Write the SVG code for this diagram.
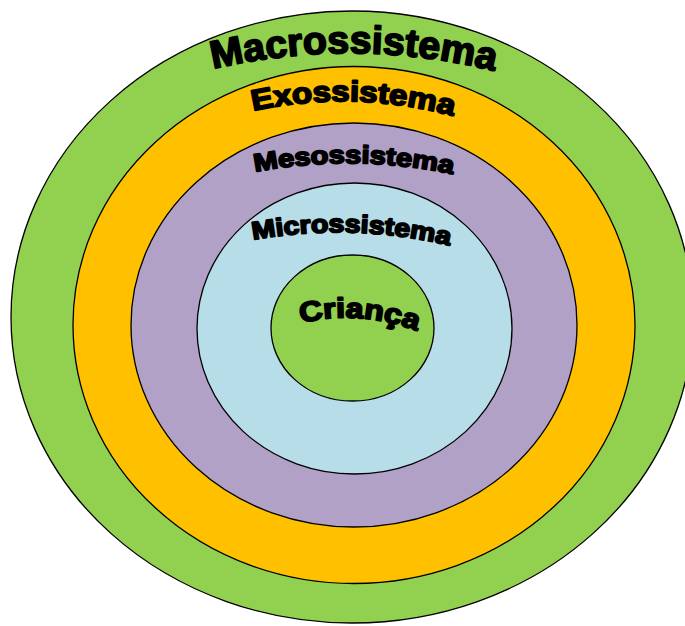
<svg xmlns="http://www.w3.org/2000/svg" width="685" height="626" viewBox="0 0 685 626">
<style>
.ring{stroke:#000;stroke-width:1.3}
.lbl{font-family:"Liberation Sans",Arial,sans-serif;font-weight:bold;fill:#000;stroke:#000;stroke-width:1.8;stroke-linejoin:round}
</style>
<defs>
<path id="pMacro" d="M 213 69 Q 355 36 499 72"/>
<path id="pExo" d="M 253 111 Q 355 89 457 117"/>
<path id="pMeso" d="M 255 172 Q 355 153 456 175"/>
<path id="pMicro" d="M 253 240 Q 352 222 452 246"/>
<path id="pCrianca" d="M 301 323 Q 358 309 420 332"/>
</defs>
<rect width="685" height="626" fill="#fff"/>
<g id="macrossistema">
<ellipse class="ring" cx="352" cy="317" rx="341" ry="306" fill="#92D050"/>
<text class="lbl" font-size="39"><textPath href="#pMacro" textLength="284" lengthAdjust="spacingAndGlyphs">Macrossistema</textPath></text>
</g>
<g id="exossistema">
<ellipse class="ring" cx="354" cy="325" rx="281" ry="258.5" fill="#FFC000"/>
<text class="lbl" font-size="29"><textPath href="#pExo" textLength="202" lengthAdjust="spacingAndGlyphs">Exossistema</textPath></text>
</g>
<g id="mesossistema">
<ellipse class="ring" cx="354" cy="325" rx="223" ry="202" fill="#B2A1C7"/>
<text class="lbl" font-size="25"><textPath href="#pMeso" textLength="199" lengthAdjust="spacingAndGlyphs">Mesossistema</textPath></text>
</g>
<g id="microssistema">
<ellipse class="ring" cx="354.5" cy="328.5" rx="157.5" ry="145.5" fill="#B7DDE8"/>
<text class="lbl" font-size="25"><textPath href="#pMicro" textLength="198" lengthAdjust="spacingAndGlyphs">Microssistema</textPath></text>
</g>
<g id="crianca">
<ellipse class="ring" cx="352.5" cy="328" rx="81.5" ry="73" fill="#92D050"/>
<text class="lbl" font-size="28"><textPath href="#pCrianca" textLength="118" lengthAdjust="spacingAndGlyphs">Criança</textPath></text>
</g>
<g id="connectors"/>
</svg>
